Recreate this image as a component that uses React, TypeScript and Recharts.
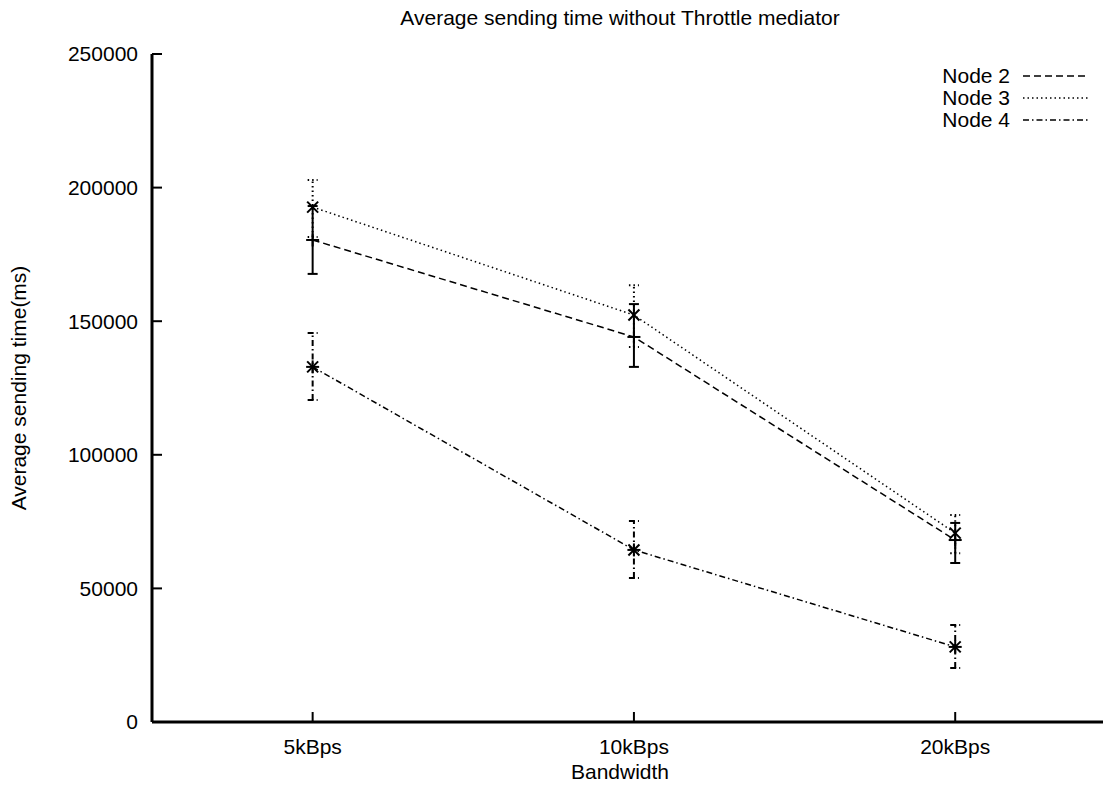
import React from "react";
import { LineChart, Line, XAxis, YAxis, ErrorBar, Label } from "recharts";

const categories = ["5kBps", "10kBps", "20kBps"];
const node2 = [180400, 144100, 68100];
const node3 = [192700, 152300, 70700];
const node4 = [132900, 64400, 28100];
// error as [below, above]
const node2Err = [[12700, 12700], [11200, 12300], [8600, 6400]];
const node3Err = [[11200, 10100], [12000, 11200], [7500, 6800]];
const node4Err = [[12400, 12700], [10500, 10800], [7900, 8200]];
const yTicks = [0, 50000, 100000, 150000, 200000, 250000];

const FONT = "'Liberation Sans', Arial, Helvetica, sans-serif";
const FS = 21;

const data = categories.map((c, i) => ({
  x: i + 1,
  label: c,
  n2: node2[i],
  n3: node3[i],
  n4: node4[i],
  e2: node2Err[i],
  e3: node3Err[i],
  e4: node4Err[i],
}));

const SERIES = [
  { key: "n2", err: "e2", name: "Node 2", dash: "7 4", errDash: undefined, marker: "plus" },
  { key: "n3", err: "e3", name: "Node 3", dash: "1.5 3", errDash: "1.5 3", marker: "cross" },
  { key: "n4", err: "e4", name: "Node 4", dash: "6 3 1.5 3", errDash: "6 3 1.5 3", marker: "star" },
];

function Marker(props: any) {
  const { cx, cy, type, index } = props;
  if (cx == null || cy == null) return <g key={index} />;
  const s = 5.5;
  const plus = (
    <>
      <line x1={cx - s - 1} y1={cy} x2={cx + s + 1} y2={cy} />
      <line x1={cx} y1={cy - s - 1} x2={cx} y2={cy + s + 1} />
    </>
  );
  const cross = (
    <>
      <line x1={cx - s} y1={cy - s} x2={cx + s} y2={cy + s} />
      <line x1={cx - s} y1={cy + s} x2={cx + s} y2={cy - s} />
    </>
  );
  return (
    <g key={index} stroke="#000" strokeWidth={2}>
      {type === "plus" && plus}
      {type === "cross" && cross}
      {type === "star" && (
        <>
          {plus}
          {cross}
        </>
      )}
    </g>
  );
}

// gnuplot-style key: label on the left, line sample on the right
function LegendBox() {
  return (
    <div style={{ position: "absolute", top: 65, left: 920, fontFamily: FONT, fontSize: FS, color: "#000" }}>
      {SERIES.map((s) => (
        <div key={s.key} style={{ display: "flex", alignItems: "center", height: 22 }}>
          <div style={{ width: 90, textAlign: "right", lineHeight: "22px" }}>{s.name}</div>
          <svg width={78} height={22} style={{ display: "block" }}>
            <line x1={13} y1={11} x2={78} y2={11} stroke="#000" strokeWidth={1.5} strokeDasharray={s.dash} />
          </svg>
        </div>
      ))}
    </div>
  );
}

export default function App() {
  return (
    <div style={{ position: "absolute", left: 0, top: 0, width: 1104, height: 790, background: "#fff", fontFamily: FONT }}>
      <div
        style={{
          position: "absolute",
          top: 6,
          left: 0,
          width: 1240,
          textAlign: "center",
          fontSize: FS,
          lineHeight: "24px",
          color: "#000",
        }}
      >
        Average sending time without Throttle mediator
      </div>
      <LineChart width={1104} height={790} data={data} margin={{ top: 54, right: 1, bottom: 0, left: 0 }} style={{ fontFamily: FONT }}>
        <XAxis
          dataKey="x"
          type="number"
          domain={[0.5, 3.46]}
          ticks={[1, 2, 3]}
          allowDataOverflow
          tickFormatter={(v) => categories[v - 1]}
          height={68}
          axisLine={{ stroke: "#000", strokeWidth: 3 }}
          tickLine={{ stroke: "#000", strokeWidth: 2 }}
          tickSize={-10}
          tickMargin={27}
          tick={{ fill: "#000", fontSize: FS }}
        >
          <Label
            content={(p: any) => {
              const vb = p.viewBox;
              return (
                <text x={620} y={vb.y + 57} textAnchor="middle" fontSize={FS} fill="#000">
                  Bandwidth
                </text>
              );
            }}
          />
        </XAxis>
        <YAxis
          type="number"
          domain={[0, 250000]}
          ticks={yTicks}
          width={152}
          axisLine={{ stroke: "#000", strokeWidth: 3 }}
          tickLine={{ stroke: "#000", strokeWidth: 2 }}
          tickSize={-10}
          tickMargin={24}
          tick={{ fill: "#000", fontSize: FS }}
        >
          <Label
            content={(p: any) => {
              const vb = p.viewBox;
              const cy = vb.y + vb.height / 2;
              return (
                <text
                  x={18}
                  y={cy}
                  transform={`rotate(-90 18 ${cy})`}
                  textAnchor="middle"
                  dominantBaseline="central"
                  fontSize={FS}
                  fill="#000"
                >
                  Average sending time(ms)
                </text>
              );
            }}
          />
        </YAxis>
        {SERIES.map((s) => (
          <Line
            key={s.key}
            dataKey={s.key}
            name={s.name}
            type="linear"
            stroke="#000"
            strokeWidth={1.5}
            strokeDasharray={s.dash}
            isAnimationActive={false}
            dot={(p: any) => <Marker key={p.index} {...p} type={s.marker} />}
            activeDot={false}
          >
            <ErrorBar
              dataKey={s.err}
              direction="y"
              width={5}
              stroke="#000"
              strokeWidth={2}
              strokeDasharray={s.errDash}
              isAnimationActive={false}
            />
          </Line>
        ))}
      </LineChart>
      <LegendBox />
    </div>
  );
}
